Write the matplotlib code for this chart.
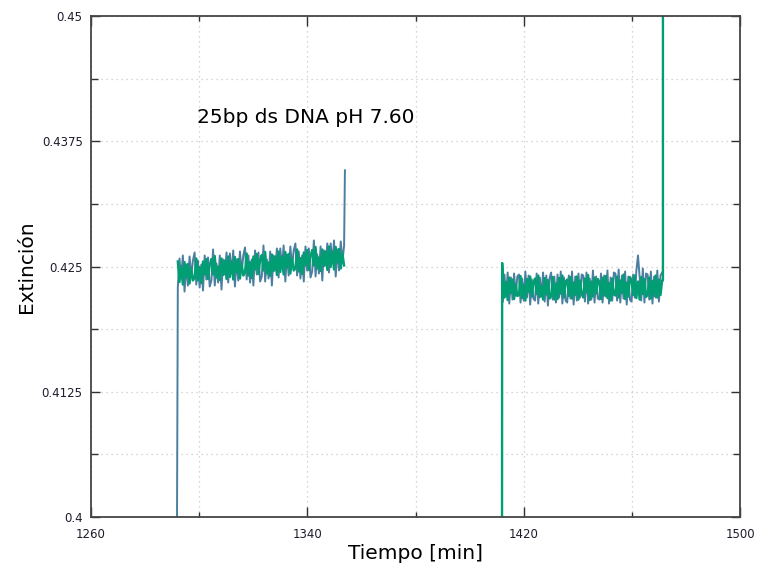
import numpy as np
import matplotlib
matplotlib.use('Agg')
import matplotlib.pyplot as plt
from matplotlib.ticker import FixedLocator

# Segment 1 (first measurement run)
seg1_start, seg1_end = 1291.8, 1353.9
seg1_green = [
    0.42550, 0.42345, 0.42500, 0.42320, 0.42545, 0.42390, 0.42525, 0.42330, 0.42480, 0.42360,
    0.42390, 0.42580, 0.42360, 0.42495, 0.42335, 0.42550, 0.42420, 0.42575, 0.42375, 0.42515,
    0.42575, 0.42420, 0.42605, 0.42390, 0.42500, 0.42365, 0.42580, 0.42415, 0.42560, 0.42375,
    0.42600, 0.42395, 0.42550, 0.42370, 0.42595, 0.42440, 0.42575, 0.42380, 0.42530, 0.42410,
    0.42440, 0.42630, 0.42410, 0.42545, 0.42385, 0.42600, 0.42470, 0.42625, 0.42425, 0.42565,
    0.42615, 0.42460, 0.42645, 0.42430, 0.42540, 0.42405, 0.42620, 0.42455, 0.42600, 0.42415,
    0.42650, 0.42445, 0.42600, 0.42420, 0.42645, 0.42490, 0.42625, 0.42430, 0.42580, 0.42460,
    0.42480, 0.42670, 0.42450, 0.42585, 0.42425, 0.42640, 0.42510, 0.42665, 0.42465, 0.42605,
    0.42665, 0.42510, 0.42695, 0.42480, 0.42590, 0.42455, 0.42670, 0.42505, 0.42650, 0.42465,
    0.42700, 0.42495, 0.42650, 0.42470, 0.42695, 0.42540, 0.42675, 0.42480, 0.42630, 0.42510,
]
seg1_teal = [
    0.42290, 0.42580, 0.42380, 0.42610, 0.42250, 0.42520, 0.42310, 0.42600, 0.42400, 0.42560,
    0.42640, 0.42320, 0.42560, 0.42290, 0.42520, 0.42260, 0.42610, 0.42370, 0.42590, 0.42300,
    0.42360, 0.42670, 0.42310, 0.42530, 0.42340, 0.42610, 0.42270, 0.42570, 0.42420, 0.42640,
    0.42340, 0.42630, 0.42430, 0.42660, 0.42300, 0.42570, 0.42360, 0.42650, 0.42450, 0.42610,
    0.42690, 0.42370, 0.42610, 0.42340, 0.42570, 0.42310, 0.42660, 0.42420, 0.42640, 0.42350,
    0.42400, 0.42710, 0.42350, 0.42570, 0.42380, 0.42650, 0.42310, 0.42610, 0.42460, 0.42680,
    0.42390, 0.42680, 0.42480, 0.42710, 0.42350, 0.42620, 0.42410, 0.42700, 0.42500, 0.42660,
    0.42730, 0.42410, 0.42650, 0.42380, 0.42610, 0.42350, 0.42700, 0.42460, 0.42680, 0.42390,
    0.42450, 0.42760, 0.42400, 0.42620, 0.42430, 0.42700, 0.42360, 0.42660, 0.42510, 0.42730,
    0.42440, 0.42730, 0.42530, 0.42760, 0.42400, 0.42670, 0.42460, 0.42750, 0.42550, 0.42710,
]
seg1_first, seg1_last = 0.3990, 0.4346

# Segment 2 (second measurement run)
seg2_start, seg2_end = 1412.0, 1471.5
seg2_green = [
    0.42395, 0.42190, 0.42345, 0.42165, 0.42390, 0.42235, 0.42370, 0.42175, 0.42325, 0.42205,
    0.42215, 0.42405, 0.42185, 0.42320, 0.42160, 0.42375, 0.42245, 0.42400, 0.42200, 0.42340,
    0.42380, 0.42225, 0.42410, 0.42195, 0.42305, 0.42170, 0.42385, 0.42220, 0.42365, 0.42180,
    0.42200, 0.42395, 0.42170, 0.42330, 0.42175, 0.42385, 0.42230, 0.42410, 0.42190, 0.42350,
    0.42370, 0.42205, 0.42395, 0.42180, 0.42340, 0.42215, 0.42400, 0.42170, 0.42360, 0.42225,
    0.42190, 0.42380, 0.42240, 0.42415, 0.42165, 0.42350, 0.42200, 0.42390, 0.42230, 0.42375,
    0.42345, 0.42175, 0.42390, 0.42210, 0.42405, 0.42185, 0.42335, 0.42160, 0.42380, 0.42220,
    0.42210, 0.42400, 0.42190, 0.42360, 0.42235, 0.42420, 0.42175, 0.42340, 0.42200, 0.42395,
    0.42365, 0.42215, 0.42410, 0.42185, 0.42350, 0.42170, 0.42395, 0.42225, 0.42375, 0.42195,
    0.42225, 0.42390, 0.42180, 0.42355, 0.42205, 0.42410, 0.42190, 0.42370, 0.42215, 0.42360,
]
seg2_teal = [
    0.42150, 0.42420, 0.42200, 0.42440, 0.42130, 0.42390, 0.42170, 0.42430, 0.42210, 0.42400,
    0.42420, 0.42140, 0.42380, 0.42160, 0.42450, 0.42190, 0.42410, 0.42120, 0.42370, 0.42180,
    0.42160, 0.42430, 0.42130, 0.42390, 0.42200, 0.42440, 0.42150, 0.42410, 0.42110, 0.42380,
    0.42440, 0.42170, 0.42400, 0.42140, 0.42420, 0.42190, 0.42450, 0.42130, 0.42390, 0.42160,
    0.42140, 0.42410, 0.42180, 0.42450, 0.42120, 0.42400, 0.42160, 0.42430, 0.42190, 0.42420,
    0.42410, 0.42150, 0.42440, 0.42130, 0.42380, 0.42170, 0.42460, 0.42140, 0.42400, 0.42180,
    0.42170, 0.42430, 0.42140, 0.42410, 0.42200, 0.42460, 0.42130, 0.42390, 0.42160, 0.42440,
    0.42430, 0.42160, 0.42470, 0.42140, 0.42410, 0.42180, 0.42450, 0.42120, 0.42400, 0.42170,
    0.42150, 0.42420, 0.42190, 0.42460, 0.42610, 0.42400, 0.42160, 0.42480, 0.42140, 0.42430,
    0.42420, 0.42170, 0.42450, 0.42130, 0.42400, 0.42190, 0.42460, 0.42150, 0.42410, 0.42440,
]
seg2_first, seg2_jump, seg2_last = 0.3990, 0.42535, 0.4600

x_major = [1260, 1340, 1420, 1500]
x_minor = [1300, 1380, 1460]
y_major = [0.4, 0.4125, 0.425, 0.4375, 0.45]
y_minor = [0.40625, 0.41875, 0.43125, 0.44375]

teal = '#4a7f9f'
green = '#009e73'

# Time stamps (regular sampling inside each run)
t1 = np.linspace(seg1_start + 0.3, seg1_end - 0.3, len(seg1_green))
t2 = np.linspace(seg2_start + 0.3, seg2_end - 0.3, len(seg2_green))

fig = plt.figure(figsize=(7.6, 5.77), dpi=100)
ax = fig.add_axes([91 / 760, 60 / 577, 649 / 760, 501 / 577])

# Segment 1
ax.plot(np.r_[seg1_start, t1, seg1_end], np.r_[seg1_first, seg1_teal, seg1_last],
        color=teal, lw=1.4)
ax.plot(t1, seg1_green, color=green, lw=1.7)

# Segment 2
ax.plot(t2, seg2_teal, color=teal, lw=1.4)
ax.plot(np.r_[seg2_start, seg2_start + 0.05, t2, seg2_end, seg2_end],
        np.r_[seg2_first, seg2_jump, seg2_green, seg2_green[-1], seg2_last],
        color=green, lw=1.7)

ax.set_xlim(1260, 1500)
ax.set_ylim(0.4, 0.45)
ax.xaxis.set_major_locator(FixedLocator(x_major))
ax.xaxis.set_minor_locator(FixedLocator(x_minor))
ax.yaxis.set_major_locator(FixedLocator(y_major))
ax.yaxis.set_minor_locator(FixedLocator(y_minor))
ax.xaxis.set_major_formatter(plt.FuncFormatter(lambda v, p: f'{v:g}'))
ax.yaxis.set_major_formatter(plt.FuncFormatter(lambda v, p: f'{v:g}'))

ax.grid(which='both', color='#c8c8c8', linestyle=(0, (1, 3)), lw=0.9)
ax.set_axisbelow(True)

ax.tick_params(which='both', direction='in', top=True, right=True, width=1,
               color='#303030')
ax.tick_params(axis='x', which='major', length=7,
               labelsize=8.5, labelcolor='#1c1c2c', pad=8)
ax.tick_params(axis='x', which='minor', length=3.5)
ax.tick_params(axis='y', which='major', length=6.5,
               labelsize=8.5, labelcolor='#1c1c2c', pad=6)
ax.tick_params(axis='y', which='minor', length=5)
for s in ax.spines.values():
    s.set_color('#454545')
    s.set_linewidth(1.3)

ax.set_xlabel('Tiempo [min]', fontsize=14.5, labelpad=2)
ax.set_ylabel('Extinción', fontsize=14.5, labelpad=4)
ax.text(1299.2, 0.4399, '25bp ds DNA pH 7.60', fontsize=14.5, va='center')

fig.savefig('out.png', dpi=100)
